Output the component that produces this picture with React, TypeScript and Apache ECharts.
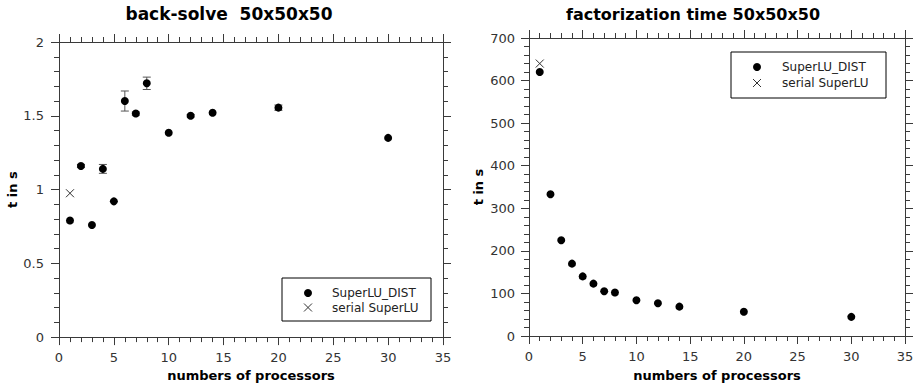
import React, { useEffect, useRef } from "react";
import * as echarts from "echarts";

const procs = [1, 2, 3, 4, 5, 6, 7, 8, 10, 12, 14, 20, 30];
const backSolveTimes = [0.79, 1.16, 0.76, 1.14, 0.92, 1.6, 1.515, 1.72, 1.385, 1.5, 1.52, 1.555, 1.35];
const backSolveErr = [0, 0.01, 0, 0.03, 0, 0.068, 0.01, 0.042, 0, 0.008, 0, 0.018, 0];
const serialBackSolve = [[1, 0.975]];
const factTimes = [620, 333, 225, 170, 140, 123, 105, 102, 84, 77, 69, 57, 45];
const serialFact = [[1, 640]];
const xTicks = [0, 35, 5];
const legendNames = ["SuperLU_DIST", "serial SuperLU"];
const titles = ["back-solve  50x50x50", "factorization time 50x50x50"];

const FONT = "DejaVu Sans";
const AXIS = "#3a3a3a";

function xAxes(grid: number, gap: number) {
  const base = {
    type: "value",
    gridIndex: grid,
    min: xTicks[0],
    max: xTicks[1],
    interval: xTicks[2],
    splitLine: { show: false },
    axisLine: { show: true, onZero: false, lineStyle: { color: AXIS, width: 1 } },
    axisTick: { show: true, inside: false, length: 8, lineStyle: { color: AXIS } },
    minorTick: { show: true, splitNumber: 5, length: 5, lineStyle: { color: AXIS } },
  };
  return [
    {
      ...base,
      position: "bottom",
      name: "numbers of processors",
      nameLocation: "middle",
      nameGap: gap,
      nameTextStyle: { fontFamily: FONT, fontSize: 13, fontWeight: "bold", color: "#000" },
      axisLabel: { fontFamily: FONT, fontSize: 13, color: "#333", margin: 14 },
    },
    { ...base, position: "top", axisLabel: { show: false } },
  ];
}

function yAxes(grid: number, max: number, interval: number, gap: number, margin: number) {
  const base = {
    type: "value",
    gridIndex: grid,
    min: 0,
    max,
    interval,
    splitLine: { show: false },
    axisLine: { show: true, onZero: false, lineStyle: { color: AXIS, width: 1 } },
    axisTick: { show: true, inside: false, length: 8, lineStyle: { color: AXIS } },
    minorTick: { show: true, splitNumber: 5, length: 5, lineStyle: { color: AXIS } },
  };
  return [
    {
      ...base,
      position: "left",
      name: "t in s",
      nameLocation: "middle",
      nameGap: gap,
      nameRotate: 90,
      nameTextStyle: { fontFamily: FONT, fontSize: 13, fontWeight: "bold", color: "#000" },
      axisLabel: { fontFamily: FONT, fontSize: 13, color: "#333", margin },
    },
    { ...base, position: "right", axisLabel: { show: false } },
  ];
}

const crossRender = (params: any, api: any) => {
  const p = api.coord([api.value(0), api.value(1)]);
  const s = 4;
  const style = { stroke: "#333", lineWidth: 1 };
  return {
    type: "group",
    children: [
      { type: "line", shape: { x1: p[0] - s, y1: p[1] - s, x2: p[0] + s, y2: p[1] + s }, style },
      { type: "line", shape: { x1: p[0] - s, y1: p[1] + s, x2: p[0] + s, y2: p[1] - s }, style },
    ],
  };
};

const errRender = (params: any, api: any) => {
  const x = api.value(0);
  const lo = api.coord([x, api.value(1)]);
  const hi = api.coord([x, api.value(2)]);
  const w = 4;
  const style = { stroke: "#555", lineWidth: 1 };
  return {
    type: "group",
    children: [
      { type: "line", shape: { x1: lo[0], y1: lo[1], x2: hi[0], y2: hi[1] }, style },
      { type: "line", shape: { x1: lo[0] - w, y1: lo[1], x2: lo[0] + w, y2: lo[1] }, style },
      { type: "line", shape: { x1: hi[0] - w, y1: hi[1], x2: hi[0] + w, y2: hi[1] }, style },
    ],
  };
};

function legendGraphic(x: number, y: number, w: number, h: number, iconX: number, textX: number, y1: number, y2: number) {
  const s = 4;
  const xs = { stroke: "#333", lineWidth: 1 };
  return [
    { type: "rect", shape: { x, y, width: w, height: h }, style: { fill: "#fff", stroke: "#000", lineWidth: 1 }, z: 10 },
    { type: "circle", shape: { cx: iconX, cy: y1, r: 4 }, style: { fill: "#000" }, z: 11 },
    { type: "line", shape: { x1: iconX - s, y1: y2 - s, x2: iconX + s, y2: y2 + s }, style: xs, z: 11 },
    { type: "line", shape: { x1: iconX - s, y1: y2 + s, x2: iconX + s, y2: y2 - s }, style: xs, z: 11 },
    { type: "text", x: textX, y: y1, style: { text: legendNames[0], font: `12px "${FONT}"`, fill: "#222", verticalAlign: "middle" }, z: 11 },
    { type: "text", x: textX, y: y2, style: { text: legendNames[1], font: `12px "${FONT}"`, fill: "#222", verticalAlign: "middle" }, z: 11 },
  ];
}

export default function App() {
  const ref = useRef<HTMLDivElement>(null);
  useEffect(() => {
    if (!ref.current) return;
    const chart = echarts.init(ref.current, null, { renderer: "svg" });
    const errData = procs
      .map((p, i) => [p, backSolveTimes[i] - backSolveErr[i], backSolveTimes[i] + backSolveErr[i]])
      .filter((_, i) => backSolveErr[i] > 0);
    const dot = { color: "#000", opacity: 1 };
    const titleStyle = { fontFamily: FONT, fontSize: 17, fontWeight: "bold", color: "#000" };
    chart.setOption({
      animation: false,
      backgroundColor: "#fff",
      title: [
        { text: titles[0], left: 229, top: 5, textAlign: "center", padding: 0, textStyle: titleStyle },
        { text: titles[1], left: 693, top: 6, textAlign: "center", padding: 0, textStyle: { ...titleStyle, fontSize: 16 } },
      ],
      grid: [
        { left: 59, top: 42, width: 384, height: 296 },
        { left: 529, top: 38, width: 376, height: 303 },
      ],
      xAxis: [...xAxes(0, 30), ...xAxes(1, 33)],
      yAxis: [...yAxes(0, 2, 0.5, 40, 15), ...yAxes(1, 700, 100, 44, 14)],
      series: [
        { type: "custom", name: "err", xAxisIndex: 0, yAxisIndex: 0, renderItem: errRender, data: errData, z: 1 },
        { type: "scatter", name: legendNames[0], xAxisIndex: 0, yAxisIndex: 0, symbol: "circle", symbolSize: 8, itemStyle: dot, data: procs.map((p, i) => [p, backSolveTimes[i]]), z: 2 },
        { type: "custom", name: legendNames[1], xAxisIndex: 0, yAxisIndex: 0, renderItem: crossRender, data: serialBackSolve, z: 2 },
        { type: "scatter", name: legendNames[0] + " ", xAxisIndex: 2, yAxisIndex: 2, symbol: "circle", symbolSize: 8, itemStyle: dot, data: procs.map((p, i) => [p, factTimes[i]]), z: 2 },
        { type: "custom", name: legendNames[1] + " ", xAxisIndex: 2, yAxisIndex: 2, renderItem: crossRender, data: serialFact, z: 2 },
      ],
      graphic: [
        ...legendGraphic(282, 278, 149, 43, 308, 332, 293, 307.5),
        ...legendGraphic(731, 52, 155, 46, 757, 782, 67, 83),
      ],
    });
    return () => chart.dispose();
  }, []);
  return <div ref={ref} style={{ position: "fixed", left: 0, top: 0, width: 917, height: 387 }} />;
}
